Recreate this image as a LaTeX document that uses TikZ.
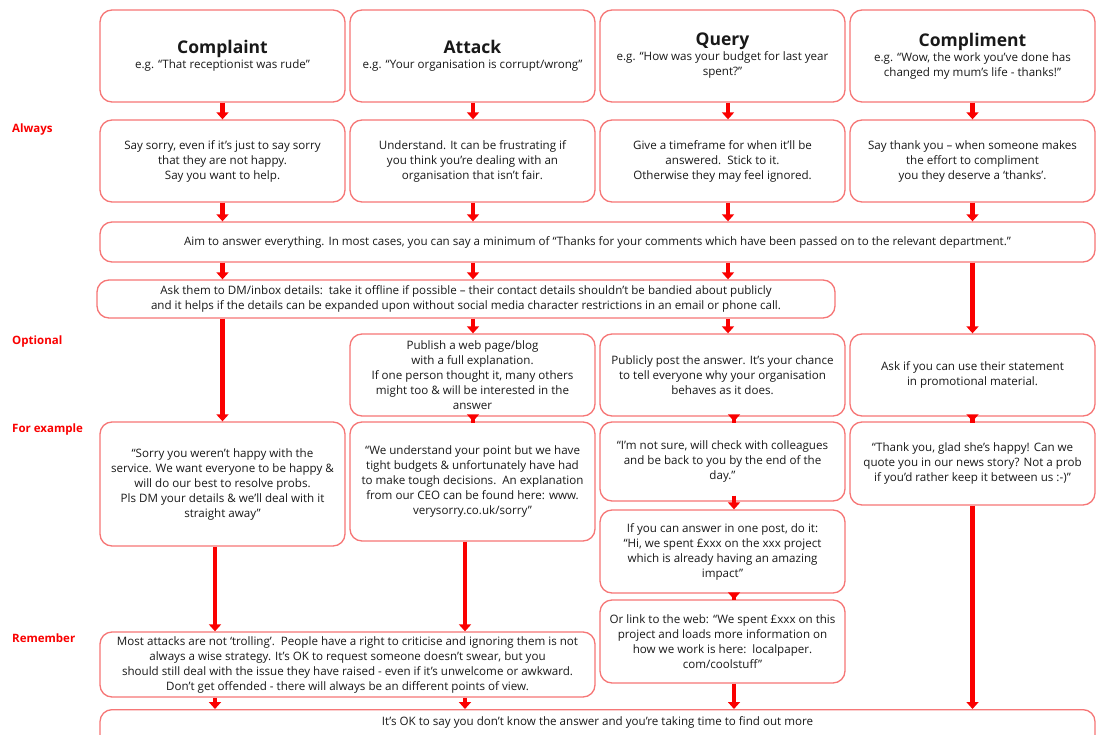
\documentclass[tikz,border=0pt]{standalone}
\usepackage{fontspec}
\setmainfont{Open Sans}
\usetikzlibrary{arrows.meta}
\definecolor{boxred}{RGB}{246,118,118}
\definecolor{arrred}{RGB}{250,0,0}
\definecolor{txt}{RGB}{25,25,25}
\tikzset{
  box/.style={draw=boxred, line width=1.3pt, rounded corners=12pt, fill=white, align=center,
    text=txt, font=\fontsize{11.6}{15}\selectfont, inner sep=2pt},
  plain/.style={align=center, text=txt, font=\fontsize{11.6}{15}\selectfont, inner sep=0pt},
  arr/.style={draw=arrred, line width=4.5pt, -{Triangle[width=12pt,length=7pt]}},
  ext/.style={shorten <=-6pt},
  lbl/.style={anchor=west, text=arrred, font=\bfseries\fontsize{11.5}{13}\selectfont, inner sep=0pt},
}
\newcommand{\ttl}[1]{{\fontsize{17.5}{21}\selectfont\bfseries #1}}
\begin{document}
\begin{tikzpicture}[x=1pt,y=-1pt]
\useasboundingbox (0,0) rectangle (1097,735);
\clip (0,0) rectangle (1097,735);
\fill[white] (0,0) rectangle (1097,735);

% column x positions for connectors
\coordinate (X1) at (222.5,0);
\coordinate (X2) at (473,0);
\coordinate (X3) at (728,0);
\coordinate (X4) at (972.5,0);
\coordinate (X1b) at (215,0);
\coordinate (X2b) at (465,0);
\coordinate (X3b) at (734,0);

% side labels
\node[lbl] (lalways) at (12,130) {Always};
\node[lbl] (lopt) at (12,342) {Optional};
\node[lbl] (lex) at (12,430) {For example};
\node[lbl] (lrem) at (12,638) {Remember};

% header row
\node[box, minimum width=245pt, minimum height=92pt] (h1) at (222.5,56)
  {\ttl{Complaint}\\e.g. “That receptionist was rude”};
\node[box, minimum width=245pt, minimum height=92pt] (h2) at (472.5,56)
  {\ttl{Attack}\\e.g. “Your organisation is corrupt/wrong”};
\node[box, minimum width=245pt, minimum height=92pt] (h3) at (722.5,56)
  {\ttl{Query}\\e.g. “How was your budget for last year\\spent?”};
\node[box, minimum width=245pt, minimum height=92pt] (h4) at (972.5,56)
  {\ttl{Compliment}\\e.g. “Wow, the work you’ve done has\\changed my mum’s life - thanks!”};

% always row
\node[box, minimum width=245pt, minimum height=82pt] (a1) at (222.5,161)
  {Say sorry, even if it’s just to say sorry\\that they are not happy.\\Say you want to help.};
\node[box, minimum width=245pt, minimum height=82pt] (a2) at (472.5,161)
  {Understand. It can be frustrating if\\you think you’re dealing with an\\organisation that isn’t fair.};
\node[box, minimum width=245pt, minimum height=82pt] (a3) at (722.5,161)
  {Give a timeframe for when it’ll be\\answered.\ \ Stick to it.\\Otherwise they may feel ignored.};
\node[box, minimum width=245pt, minimum height=82pt] (a4) at (972.5,161)
  {Say thank you – when someone makes\\the effort to compliment\\you they deserve a ‘thanks’.};

% aim
\node[box, minimum width=995pt, minimum height=40pt] (aim) at (597.5,242)
  {Aim to answer everything. In most cases, you can say a minimum of “Thanks for your comments which have been passed on to the relevant department.”};

% dm
\node[box, minimum width=738pt, minimum height=38pt] (dm) at (466,299)
  {Ask them to DM/inbox details:\ \ take it offline if possible – their contact details shouldn’t be bandied about publicly\\and it helps if the details can be expanded upon without social media character restrictions in an email or phone call.};

% optional row
\node[box, minimum width=245pt, minimum height=82pt] (o2) at (472.5,375)
  {Publish a web page/blog\\with a full explanation.\\If one person thought it, many others\\might too \& will be interested in the\\answer};
\node[box, minimum width=245pt, minimum height=82pt] (o3) at (722.5,375)
  {Publicly post the answer. It’s your chance\\to tell everyone why your organisation\\behaves as it does.};
\node[box, minimum width=245pt, minimum height=82pt] (o4) at (972.5,375)
  {Ask if you can use their statement\\in promotional material.};

% example row
\node[box, minimum width=245pt, minimum height=124pt] (e1) at (222.5,484)
  {“Sorry you weren’t happy with the\\service. We want everyone to be happy \&\\will do our best to resolve probs.\\Pls DM your details \& we’ll deal with it\\straight away”};
\node[box, minimum width=245pt, minimum height=119pt] (e2) at (472.5,481.5)
  {“We understand your point but we have\\tight budgets \& unfortunately have had\\to make tough decisions.\ \ An explanation\\from our CEO can be found here: www.\\verysorry.co.uk/sorry”};
\node[box, minimum width=245pt, minimum height=79pt] (e3) at (722.5,461.5)
  {“I’m not sure, will check with colleagues\\and be back to you by the end of the\\day.”};
\node[box, minimum width=245pt, minimum height=83pt] (e3b) at (722.5,551.5)
  {If you can answer in one post, do it:\\“Hi, we spent £xxx on the xxx project\\which is already having an amazing\\impact”};
\node[box, minimum width=245pt, minimum height=83pt] (e3c) at (722.5,641.5)
  {Or link to the web: “We spent £xxx on this\\project and loads more information on\\how we work is here:\ \ localpaper.\\com/coolstuff”};
\node[box, minimum width=245pt, minimum height=83pt] (e4) at (972.5,463.5)
  {“Thank you, glad she’s happy! Can we\\quote you in our news story? Not a prob\\if you’d rather keep it between us :-)”};

% remember
\node[box, minimum width=495pt, minimum height=65pt] (rem) at (347.5,664.5)
  {Most attacks are not ‘trolling’.\ \ People have a right to criticise and ignoring them is not\\always a wise strategy. It’s OK to request someone doesn’t swear, but you\\should still deal with the issue they have raised - even if it’s unwelcome or awkward.\\Don’t get offended - there will always be an different points of view.};

% bottom
\node[box, minimum width=995pt, minimum height=60pt, anchor=north] (bot) at (597.5,709) {};
\node[plain] (bott) at (597.5,722)
  {It’s OK to say you don’t know the answer and you’re taking time to find out more};

% connectors
\foreach \c in {1,2,3,4} {
  \draw[arr] (h\c.south -| X\c) -- (a\c.north -| X\c);
  \draw[arr] (a\c.south -| X\c) -- (aim.north -| X\c);
}
\draw[arr] (aim.south -| X1) -- (dm.north -| X1);
\draw[arr] (aim.south -| X2) -- (dm.north -| X2);
\draw[arr] (aim.south -| X3) -- (dm.north -| X3);
\draw[arr] (aim.south -| X4) -- (o4.north -| X4);
\draw[arr] (dm.south -| X1) -- (e1.north -| X1);
\draw[arr] (dm.south -| X2) -- (o2.north -| X2);
\draw[arr] (dm.south -| X3) -- (o3.north -| X3);
\draw[arr, ext] (o2.south -| X2) -- (e2.north -| X2);
\draw[arr, ext] (o3.south -| X3b) -- (e3.north -| X3b);
\draw[arr, ext] (o4.south -| X4) -- (e4.north -| X4);
\draw[arr, ext] (e3.south -| X3b) -- (e3b.north -| X3b);
\draw[arr, ext] (e3b.south -| X3b) -- (e3c.north -| X3b);
\draw[arr] (e1.south -| X1b) -- (rem.north -| X1b);
\draw[arr] (e2.south -| X2b) -- (rem.north -| X2b);
\draw[arr] (rem.south -| X1b) -- (bot.north -| X1b);
\draw[arr] (rem.south -| X2b) -- (bot.north -| X2b);
\draw[arr] (e3c.south -| X3b) -- (bot.north -| X3b);
\draw[arr] (e4.south -| X4) -- (bot.north -| X4);
\end{tikzpicture}
\end{document}
